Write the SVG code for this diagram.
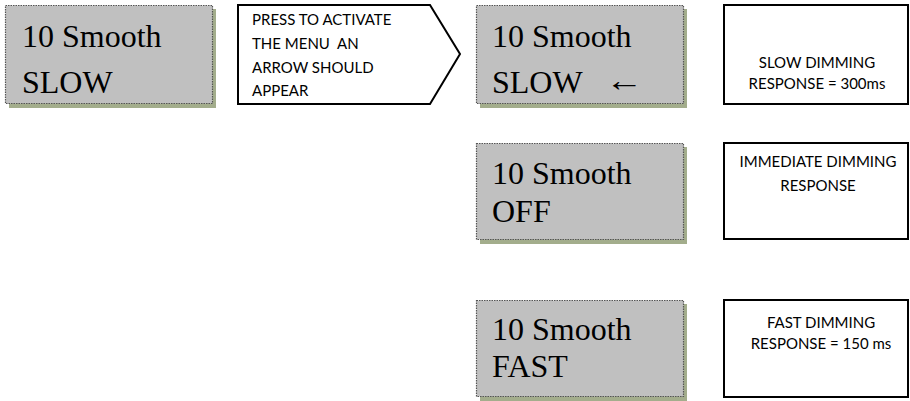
<svg xmlns="http://www.w3.org/2000/svg" width="910" height="401" viewBox="0 0 910 401">
<style>
.shadow{fill:#a3ad8c}
.lcd{fill:#c0c0c0;stroke:#555;stroke-width:1.2;stroke-dasharray:1.5 1}
.lcdt{font-family:"Liberation Serif","Times New Roman",serif;font-size:32px;fill:#000}
.note{fill:#fff;stroke:#000;stroke-width:2}
.nt{font-family:Lato,"Open Sans","Liberation Sans",sans-serif;font-size:15px;fill:#000;white-space:pre}
.ntc{font-family:Lato,"Open Sans","Liberation Sans",sans-serif;font-size:15px;fill:#000;text-anchor:middle}
</style>
<rect width="910" height="401" fill="#fff"/>
<g id="lcd-slow">
<rect class="shadow" x="9" y="9" width="207" height="99"/>
<rect class="lcd" x="5.5" y="5.5" width="207" height="98"/>
<text class="lcdt" x="22" y="47">10 Smooth</text>
<text class="lcdt" x="22" y="93">SLOW</text>
</g>
<g id="press-note">
<polygon class="note" points="238,5 430,5 460,54 430,104 238,104"/>
<text class="nt" x="252" y="25">PRESS TO ACTIVATE</text>
<text class="nt" x="252" y="49" xml:space="preserve">THE MENU  AN</text>
<text class="nt" x="252" y="73">ARROW SHOULD</text>
<text class="nt" x="252" y="96">APPEAR</text>
</g>
<g id="lcd-slow-arrow">
<rect class="shadow" x="480" y="9" width="207" height="99"/>
<rect class="lcd" x="476.5" y="5.5" width="207" height="98"/>
<text class="lcdt" x="492" y="47">10 Smooth</text>
<text class="lcdt" x="492" y="93">SLOW</text>
<text class="lcdt" x="605" y="91" textLength="38" lengthAdjust="spacingAndGlyphs">←</text>
</g>
<g id="slow-desc">
<rect class="note" x="724" y="5" width="184" height="99"/>
<text class="ntc" x="817" y="68">SLOW DIMMING</text>
<text class="ntc" x="817" y="89">RESPONSE = 300ms</text>
</g>
<g id="lcd-off">
<rect class="shadow" x="480" y="147" width="207" height="97"/>
<rect class="lcd" x="476.5" y="143.5" width="207" height="96"/>
<text class="lcdt" x="492" y="184">10 Smooth</text>
<text class="lcdt" x="492" y="222">OFF</text>
</g>
<g id="off-desc">
<rect class="note" x="724" y="143" width="184" height="96"/>
<text class="ntc" x="818" y="167">IMMEDIATE DIMMING</text>
<text class="ntc" x="818" y="191">RESPONSE</text>
</g>
<g id="lcd-fast">
<rect class="shadow" x="480" y="304" width="207" height="97"/>
<rect class="lcd" x="476.5" y="300.5" width="207" height="96"/>
<text class="lcdt" x="492" y="340">10 Smooth</text>
<text class="lcdt" x="492" y="377">FAST</text>
</g>
<g id="fast-desc">
<rect class="note" x="724" y="300" width="184" height="97"/>
<text class="ntc" x="821" y="328">FAST DIMMING</text>
<text class="ntc" x="821" y="349">RESPONSE = 150 ms</text>
</g>
<g id="connectors"></g>
</svg>
